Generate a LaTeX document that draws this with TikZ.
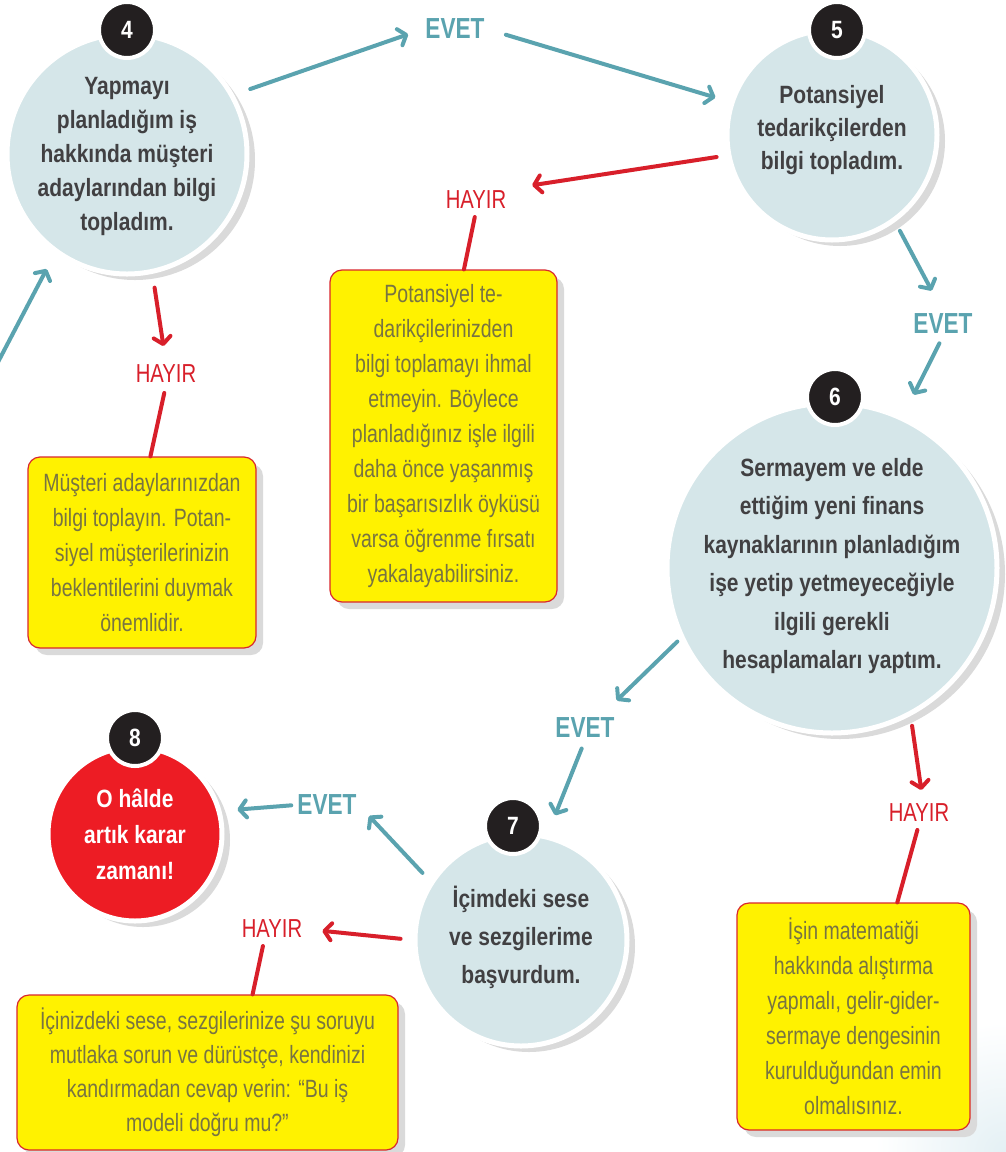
\documentclass[tikz,border=0pt]{standalone}
\usepackage{fontspec}
\setmainfont[FakeStretch=0.84]{Liberation Sans}
\newfontfamily\labelfont[FakeStretch=0.78]{Liberation Sans}
\newfontfamily\tipfont[FakeStretch=0.78]{Liberation Sans}
\usetikzlibrary{arrows.meta,calc,shadows}
\definecolor{bubblefill}{RGB}{213,230,233}
\definecolor{bubbletext}{RGB}{65,64,66}
\definecolor{badgeblack}{RGB}{35,31,32}
\definecolor{shadowgray}{RGB}{218,218,218}
\definecolor{evetcol}{RGB}{90,163,175}
\definecolor{hayircol}{RGB}{216,31,42}
\definecolor{tipyellow}{RGB}{255,242,0}
\definecolor{tipred}{RGB}{217,39,46}
\definecolor{tiptext}{RGB}{120,116,66}
\definecolor{redbubble}{RGB}{237,28,36}
\definecolor{cornertint}{RGB}{228,240,244}
\tikzset{
  bubble/.style={circle, fill=bubblefill, draw=white, line width=5pt, inner sep=0pt,
    drop shadow={shadow xshift=8pt, shadow yshift=-6pt, fill=shadowgray, opacity=1}},
  bubbletxt/.style={align=center, text=bubbletext, inner sep=0pt,
    font=\bfseries\fontsize{25}{34}\selectfont},
  badge/.style={circle, fill=badgeblack, draw=white, line width=4pt, minimum size=56pt,
    inner sep=0pt, text=white, font=\bfseries\fontsize{25}{25}\selectfont},
  tipbox/.style={rounded corners=12pt, fill=tipyellow, draw=tipred, line width=1.2pt,
    align=center, text=tiptext, inner sep=0pt, font=\tipfont\fontsize{25}{35}\selectfont,
    drop shadow={shadow xshift=7pt, shadow yshift=-7pt, fill=shadowgray, opacity=1}},
  yeslbl/.style={text=evetcol, font=\labelfont\bfseries\fontsize{29}{29}\selectfont, inner sep=2pt},
  nolbl/.style={text=hayircol, font=\tipfont\fontsize{26}{26}\selectfont, inner sep=2pt},
  yesarrow/.style={draw=evetcol, line width=4pt, line cap=round,
    -{Straight Barb[length=7pt,width=17pt,round]}},
  noarrow/.style={draw=hayircol, line width=4pt, line cap=round,
    -{Straight Barb[length=7pt,width=17pt,round]}},
  noline/.style={draw=hayircol, line width=4pt, line cap=round},
}
\begin{document}
\begin{tikzpicture}[x=1pt,y=-1pt]
\useasboundingbox (0,0) rectangle (1005,1152);
\fill[white] (0,0) rectangle (1005,1152);
\shade[inner color=cornertint, outer color=white] (1005,1152) circle (130);

% bubbles
\node[bubble, minimum size=240pt] (c4) at (127,154) {};
\node[bubble, minimum size=210pt] (c5) at (832,135) {};
\node[bubble, minimum size=330pt] (c6) at (832,568) {};
\node[bubble, minimum size=212pt] (c7) at (521,940) {};
\node[bubble, minimum size=174pt, fill=redbubble] (c8) at (135,834) {};

% badges
\node[badge] (b4) at (127,30) {4};
\node[badge] (b5) at (837,30) {5};
\node[badge] (b6) at (835,397) {6};
\node[badge] (b7) at (513,826) {7};
\node[badge] (b8) at (135,738) {8};

% bubble texts
\node[bubbletxt] (t4) at ([yshift=-2pt]c4.center) {Yapmayı\\planladığım iş\\hakkında müşteri\\adaylarından bilgi\\topladım.};
\node[bubbletxt, font=\bfseries\fontsize{25}{33}\selectfont] (t5) at ([yshift=5pt]c5.center) {Potansiyel\\tedarikçilerden\\bilgi topladım.};
\node[bubbletxt, font=\bfseries\fontsize{25}{38.5}\selectfont] (t6) at ([yshift=2pt]c6.center) {Sermayem ve elde\\ettiğim yeni finans\\kaynaklarının planladığım\\işe yetip yetmeyeceğiyle\\ilgili gerekli\\hesaplamaları yaptım.};
\node[bubbletxt, font=\bfseries\fontsize{25}{38}\selectfont] (t7) at ([yshift=3pt]c7.center) {İçimdeki sese\\ve sezgilerime\\başvurdum.};
\node[bubbletxt, text=white, font=\bfseries\fontsize{25}{36}\selectfont] (t8) at (c8.center) {O hâlde\\artık karar\\zamanı!};

% tip boxes
\node[tipbox, minimum width=228pt, minimum height=191pt] (yA) at (142,552.5) {Müşteri adaylarınızdan\\bilgi toplayın. Potan-\\siyel müşterilerinizin\\beklentilerini duymak\\önemlidir.};
\node[tipbox, minimum width=227pt, minimum height=332pt] (yB) at (443.5,436) {Potansiyel te-\\darikçilerinizden\\bilgi toplamayı ihmal\\etmeyin. Böylece\\planladığınız işle ilgili\\daha önce yaşanmış\\bir başarısızlık öyküsü\\varsa öğrenme fırsatı\\yakalayabilirsiniz.};
\node[tipbox, minimum width=233pt, minimum height=227pt] (yC) at (853.5,1016.5) {İşin matematiği\\hakkında alıştırma\\yapmalı, gelir-gider-\\sermaye dengesinin\\kurulduğundan emin\\olmalısınız.};
\node[tipbox, minimum width=381pt, minimum height=155pt, font=\tipfont\fontsize{25}{34}\selectfont] (yD) at (207.5,1072.5) {İçinizdeki sese, sezgilerinize şu soruyu\\mutlaka sorun ve dürüstçe, kendinizi\\kandırmadan cevap verin: “Bu iş\\modeli doğru mu?”};

% labels
\node[yeslbl] (e1) at (455,29) {EVET};
\node[yeslbl] (e2) at (943,324) {EVET};
\node[yeslbl] (e3) at (585,728) {EVET};
\node[yeslbl] (e4) at (327,805) {EVET};
\node[nolbl] (h1) at (476,200) {HAYIR};
\node[nolbl] (h2) at (166,374) {HAYIR};
\node[nolbl] (h3) at (919,813) {HAYIR};
\node[nolbl] (h4) at (272,929) {HAYIR};
\coordinate (lft) at (-3,364);

% connectors
\draw[yesarrow, shorten <=17pt, shorten >=16pt] (c4.29) -- (e1.west);
\draw[yesarrow, shorten <=20pt, shorten >=15pt] (e1.east) -- (c5.162);
\draw[noarrow, shorten <=10pt, shorten >=24pt] (c5.191) -- (h1.north east);
\draw[noline, shorten <=6pt] (h1.south) -- (yB.83);
\draw[yesarrow, shorten <=10pt, shorten >=24pt] (c5.-54) -- (e2.north);
\draw[yesarrow, shorten <=8pt, shorten >=24pt] (e2.south) -- (c6.65);
\draw[noarrow, shorten <=14pt, shorten >=17pt] (c4.-78) -- (h2.north);
\draw[noline, shorten <=8pt] (h2.south) -- (yA.85);
\draw[yesarrow, shorten >=18pt] (lft) -- (c4.234);
\draw[yesarrow, shorten <=4pt, shorten >=22pt] (c6.205) -- ($(e3.north)!0.5!(e3.north east)$);
\draw[yesarrow, shorten <=9pt, shorten >=21pt] (e3.south) -- (c7.76);
\draw[yesarrow, shorten <=11pt, shorten >=15pt] (c7.147) -- (e4.east);
\draw[yesarrow, shorten <=4pt, shorten >=16pt] (e4.west) -- (c8.15);
\draw[noarrow, shorten <=12pt, shorten >=18pt] (c7.180) -- (h4.east);
\draw[noline, shorten <=6pt] (h4.-125) -- (yD.60);
\draw[noarrow, shorten <=10pt, shorten >=12pt] (c6.-62) -- (h3.70);
\draw[noline, shorten <=6pt] (h3.south) -- (yC.69);
\end{tikzpicture}
\end{document}
